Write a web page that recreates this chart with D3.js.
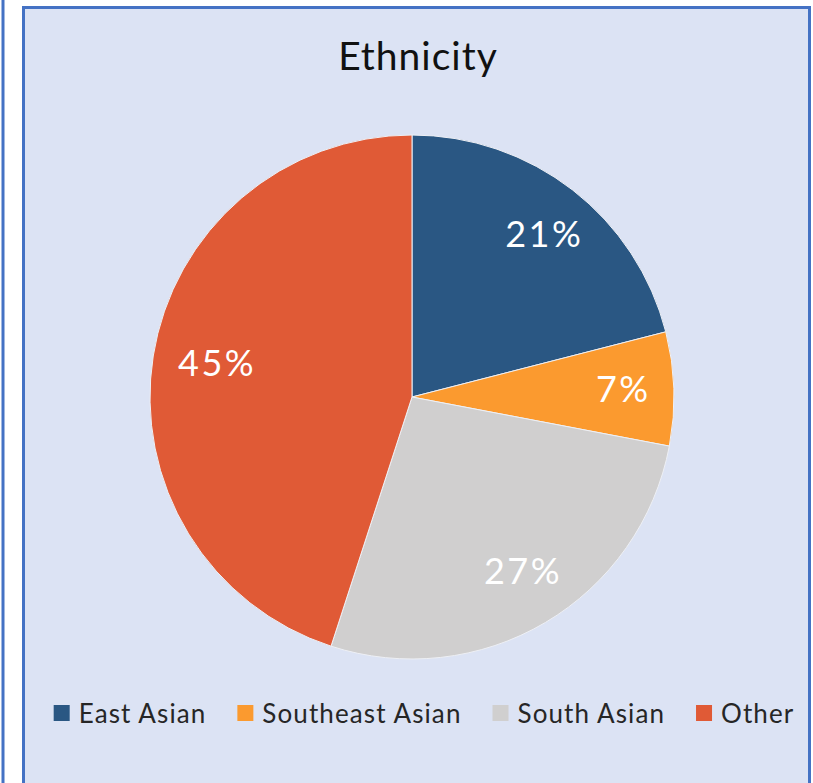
<!DOCTYPE html>
<html lang="en">
<head>
  <meta charset="UTF-8"/>
  <title>Ethnicity</title>
  <script src="https://d3js.org/d3.v7.min.js"></script>
  <style>
    body { margin: 0; background: #fff; }
    svg { display: block; }
    text { font-family: 'Lato', 'Open Sans', sans-serif; }
    text.title { font-size: 39px; fill: #111; letter-spacing: 1px; }
    text.pct { font-size: 36px; fill: #fff; letter-spacing: 2.5px; }
    text.legend { font-size: 26px; fill: #262626; letter-spacing: 1.1px; }
  </style>
</head>
<body>
<svg width="813" height="783"></svg>
<script>
  const categories = ['East Asian', 'Southeast Asian', 'South Asian', 'Other'];
  const values = [21, 7, 27, 45];
  const colors = ['#2a5783', '#fb9a2f', '#d0cfcf', '#e05a36'];

  const svg = d3.select('svg');
  const W = 813, H = 783;

  // left neighbour panel edge
  svg.append('line')
    .attr('x1', 3).attr('x2', 3).attr('y1', 0).attr('y2', H)
    .attr('stroke', '#4472c4').attr('stroke-width', 3);

  // chart box
  svg.append('rect')
    .attr('x', 23.5).attr('y', 7.5)
    .attr('width', 786).attr('height', 800)
    .attr('fill', '#dce3f4')
    .attr('stroke', '#4472c4').attr('stroke-width', 3);

  svg.append('text')
    .attr('class', 'title')
    .attr('x', 418).attr('y', 70)
    .attr('text-anchor', 'middle')
    .text('Ethnicity');

  const cx = 412, cy = 397, r = 262;
  const data = categories.map((c, i) => ({ name: c, value: values[i], color: colors[i] }));

  const pie = d3.pie().sort(null).value(d => d.value);
  const arc = d3.arc().innerRadius(0).outerRadius(r);
  const labelArc = d3.arc().innerRadius(r * 0.78).outerRadius(r * 0.78);

  const g = svg.append('g').attr('transform', `translate(${cx}, ${cy})`);
  const arcs = pie(data);

  g.selectAll('path')
    .data(arcs)
    .enter()
    .append('path')
    .attr('d', arc)
    .attr('fill', d => d.data.color)
    .attr('stroke', '#eef0f5')
    .attr('stroke-width', 1);

  g.selectAll('text.pct')
    .data(arcs)
    .enter()
    .append('text')
    .attr('class', 'pct')
    .attr('transform', d => {
      const [x, y] = labelArc.centroid(d);
      return `translate(${x + 7}, ${y - 3})`;
    })
    .attr('text-anchor', 'middle')
    .attr('dominant-baseline', 'central')
    .text(d => `${d.data.value}%`);

  // legend
  const legend = svg.append('g').attr('transform', 'translate(0, 713)');
  const items = legend.selectAll('g')
    .data(data)
    .enter()
    .append('g');

  items.append('rect')
    .attr('width', 16).attr('height', 16)
    .attr('y', -8)
    .attr('fill', d => d.color);

  items.append('text')
    .attr('class', 'legend')
    .attr('x', 25)
    .attr('y', 10)
    .text(d => d.name);

  const gap = 31;
  const widths = [];
  items.each(function () {
    widths.push(25 + d3.select(this).select('text').node().getComputedTextLength());
  });
  const total = d3.sum(widths) + gap * (widths.length - 1);
  let start = 424 - total / 2;
  items.attr('transform', (d, i) => {
    const t = `translate(${start}, 0)`;
    start += widths[i] + gap;
    return t;
  });
</script>
</body>
</html>
